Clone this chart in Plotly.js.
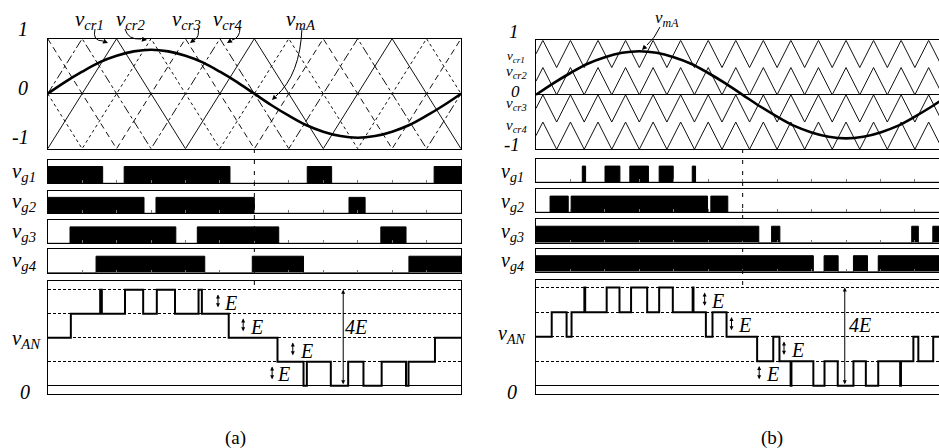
<!DOCTYPE html>
<html><head><meta charset="utf-8">
<script src="https://cdn.plot.ly/plotly-3.0.1.min.js"></script>
<style>html,body{margin:0;padding:0;background:#fff}#chart{width:939px;height:448px}</style>
</head><body><div id="chart"></div>
<script>
// ---------------- DATA (time as fraction of one fundamental period) ----------------
// modulating wave v_mA, sampled every 15 degrees
const mDeg = [0,15,30,45,60,75,90,105,120,135,150,165,180,195,210,225,240,255,270,285,300,315,330,345,360];
const mA_a = [0,0.21,0.40,0.57,0.69,0.77,0.80,0.77,0.69,0.57,0.40,0.21,0,-0.21,-0.40,-0.57,-0.69,-0.77,-0.80,-0.77,-0.69,-0.57,-0.40,-0.21,0];
const mA_b = [0,0.21,0.40,0.57,0.69,0.77,0.80,0.77,0.69,0.57,0.40,0.21,0,-0.21,-0.40,-0.57,-0.69,-0.77,-0.80,-0.77,-0.69,-0.57,-0.40,-0.21,0];

// (a) phase-shifted carriers, vertex times in twelfths of a period
const cr1A_t = [0,2,4,6,8,10,12];    const cr1A_v = [-1,1,-1,1,-1,1,-1];
const cr2A_t = [0,1,3,5,7,9,11,12];  const cr2A_v = [0,-1,1,-1,1,-1,1,0];
const cr3A_t = [0,2,4,6,8,10,12];    const cr3A_v = [1,-1,1,-1,1,-1,1];
const cr4A_t = [0,1,3,5,7,9,11,12];  const cr4A_v = [0,1,-1,1,-1,1,-1,0];

// (b) level-shifted carriers, vertex times in sixtieths, unit shape within each band
const crB_t60 = [0,1,3,5,7,9,11,13,15,17,19,21,23,25,27,29,31,33,35,37,39,41,43,45,47,49,51,53,55,57,59,60];
const crB_unit = [0.5,1,0,1,0,1,0,1,0,1,0,1,0,1,0,1,0,1,0,1,0,1,0,1,0,1,0,1,0,1,0,0.5];
const crB_bandLow = [0.5, 0, -0.5, -1];
const crB_bandHeight = 0.5;

// (a) gate signals: switching instants and states
const vg1A_t = [0,0.133,0.185,0.441,0.628,0.687,0.935,1];  const vg1A_s = [1,0,1,0,1,0,1,1];
const vg2A_t = [0,0.233,0.262,0.500,0.729,0.768,1];        const vg2A_s = [1,0,1,0,1,0,0];
const vg3A_t = [0,0.054,0.310,0.362,0.559,0.806,0.867,1];  const vg3A_s = [0,1,0,1,0,1,0,0];
const vg4A_t = [0,0.117,0.380,0.495,0.619,0.874,1];        const vg4A_s = [0,1,0,1,0,1,1];

// (b) gate signals
const vg1B_t = [0,0.112,0.120,0.167,0.203,0.227,0.272,0.298,0.332,0.378,0.386,1]; const vg1B_s = [0,1,0,1,0,1,0,1,0,1,0,0];
const vg2B_t = [0,0.034,0.078,0.085,0.415,0.423,0.464,1];  const vg2B_s = [0,1,0,1,0,1,0,0];
const vg3B_t = [0,0.539,0.570,0.590,0.909,0.925,0.960,1];  const vg3B_s = [1,0,1,0,1,0,1,1];
const vg4B_t = [0,0.671,0.697,0.731,0.768,0.802,0.828,1];  const vg4B_s = [1,0,1,0,1,0,1,1];

// v_AN in multiples of E
const vanA_t = [0,0.056,0.127,0.131,0.187,0.231,0.264,0.308,0.365,0.373,0.438,0.556,0.619,0.627,0.685,0.727,0.764,0.808,0.867,0.873,0.937,1];
const vanA_l = [2,3,4,3,4,3,4,3,4,3,2,1,0,1,0,1,0,1,0,1,2,2];
const vanB_t = [0,0.038,0.074,0.086,0.117,0.119,0.171,0.202,0.230,0.269,0.298,0.331,0.379,0.381,0.411,0.427,0.461,0.535,0.574,0.589,0.616,0.618,0.671,0.698,0.730,0.768,0.798,0.828,0.881,0.883,0.913,0.925,0.961,1];
const vanB_l = [2,3,2,3,4,3,4,3,4,3,4,3,4,3,2,3,2,1,2,1,0,1,0,1,0,1,0,1,0,1,2,1,2,2];

// ---------------- LAYOUT ----------------
const W = 939, H = 448;
const px = x => x / W, py = y => 1 - y / H;
const FONT = 'Liberation Serif, Times New Roman, serif';
const layout = {width:W, height:H, margin:{l:0,r:0,t:0,b:0}, paper_bgcolor:'#fff', plot_bgcolor:'#fff',
  showlegend:false, shapes:[], annotations:[]};
const traces = [];

const nm = i => (i === 1 ? '' : String(i));
function addAxes(i, xd, yd, xr, yr, mirrorY, xo, yo) {
  layout['xaxis' + nm(i)] = Object.assign({domain:[px(xd[0]), px(xd[1])], range:xr, anchor:'y' + nm(i),
    showline:true, linecolor:'#000', linewidth:1, mirror:true, showgrid:false, zeroline:false,
    showticklabels:false, ticks:'', fixedrange:true}, xo || {});
  layout['yaxis' + nm(i)] = Object.assign({domain:[py(yd[1]), py(yd[0])], range:yr, anchor:'x' + nm(i),
    showline:true, linecolor:'#000', linewidth:1, mirror:mirrorY, showgrid:false, zeroline:false,
    showticklabels:false, ticks:'', fixedrange:true}, yo || {});
}

const panels = [
  {base:1, xd:[47.7,461], xr:[0,1], mirrorY:true,
   rows:[[38.7,148.7],[159.5,183.3],[190.7,213.3],[220,243.3],[249.3,272.7],[281,394.3]], vanR:[-0.36,4.36],
   m:mA_a, gates:[[vg1A_t,vg1A_s],[vg2A_t,vg2A_s],[vg3A_t,vg3A_s],[vg4A_t,vg4A_s]], van:[vanA_t,vanA_l]},
  {base:7, xd:[536,939], xr:[0,0.975], mirrorY:false,
   rows:[[40.3,149.3],[159.3,182.3],[189.3,212.3],[219.3,242.7],[249,271.7],[280,394.3]], vanR:[-0.35,4.31],
   m:mA_b, gates:[[vg1B_t,vg1B_s],[vg2B_t,vg2B_s],[vg3B_t,vg3B_s],[vg4B_t,vg4B_s]], van:[vanB_t,vanB_l]}
];

panels.forEach((P, pi) => {
  const b = P.base;
  // top plot
  addAxes(b, P.xd, P.rows[0], P.xr, [-1,1], P.mirrorY, {}, {zeroline:true, zerolinecolor:'#000', zerolinewidth:1});
  const xa = 'x' + nm(b), ya = 'y' + nm(b);
  if (pi === 0) {
    const cs = [[cr1A_t,cr1A_v,'solid'],[cr2A_t,cr2A_v,'dot'],[cr3A_t,cr3A_v,'6px,4px'],[cr4A_t,cr4A_v,'dashdot']];
    cs.forEach(c => traces.push({x:c[0].map(t => t/12), y:c[1], xaxis:xa, yaxis:ya, mode:'lines',
      line:{color:'#111', width:1, dash:c[2]}, hoverinfo:'skip'}));
  } else {
    crB_bandLow.forEach(lo => traces.push({x:crB_t60.map(t => t/60), y:crB_unit.map(u => lo + crB_bandHeight*u),
      xaxis:xa, yaxis:ya, mode:'lines', line:{color:'#111', width:1}, hoverinfo:'skip'}));
  }
  traces.push({x:mDeg.map(d => d/360), y:P.m, xaxis:xa, yaxis:ya, mode:'lines',
    line:{color:'#000', width:2.6, shape:'spline', smoothing:1}, hoverinfo:'skip'});
  // gate plots
  P.gates.forEach((g, k) => {
    const i = b + 1 + k;
    addAxes(i, P.xd, P.rows[1+k], P.xr, [0,1.42], P.mirrorY,
      {ticks:'inside', ticklen:3, tickcolor:'#777', tickmode:'linear', tick0:0, dtick:1/12}, {});
    traces.push({x:g[0], y:g[1], xaxis:'x'+nm(i), yaxis:'y'+nm(i), mode:'lines',
      line:{shape:'hv', color:'#000', width:1}, fill:'tozeroy', fillcolor:'#000', hoverinfo:'skip'});
  });
  // v_AN plot
  const iv = b + 5;
  addAxes(iv, P.xd, P.rows[5], P.xr, P.vanR, P.mirrorY, {},
    {tickmode:'array', tickvals:[1,2,3,4], showgrid:true, gridcolor:'#000', gridwidth:1, griddash:'3px,2px',
     zeroline:true, zerolinecolor:'#000', zerolinewidth:1});
  traces.push({x:P.van[0], y:P.van[1], xaxis:'x'+nm(iv), yaxis:'y'+nm(iv), mode:'lines',
    line:{shape:'hv', color:'#000', width:2}, hoverinfo:'skip'});
  // half-period dashed marker
  layout.shapes.push({type:'line', xref:'x'+nm(b+1), yref:'paper', x0:0.5, x1:0.5, y0:py(149), y1:py(289),
    line:{color:'#000', width:1, dash:'4px,7px'}});
});

// ---------------- TEXT ----------------
function L(text, x, y, size, opts) {
  layout.annotations.push(Object.assign({text:text, xref:'paper', yref:'paper', x:px(x), y:py(y),
    xanchor:'center', yanchor:'middle', showarrow:false, borderpad:0, font:{family:FONT, size:size, color:'#000'}}, opts || {}));
}
const it = s => '<i>' + s + '</i>';
const vs = s => '<i>v<sub>' + s + '</sub></i>';
// panel (a)
L(it('1'), 23, 29, 20); L(it('0'), 23, 88, 20); L(it('-1'), 20, 137, 20);
L(vs('cr1'), 89, 20, 21); L(vs('cr2'), 131, 20, 21); L(vs('cr3'), 186, 20, 21); L(vs('cr4'), 228, 20, 21);
L(vs('mA'), 301, 20, 21);
L(vs('g1'), 24, 172, 21); L(vs('g2'), 24, 202, 21); L(vs('g3'), 24, 232, 21); L(vs('g4'), 24, 261, 21);
L(vs('AN'), 26, 339, 21); L(it('0'), 25, 392, 20);
L('(a)', 235, 438, 19);
// panel (b)
L(it('1'), 514, 32, 19); L(vs('cr1'), 516, 56, 13); L(vs('cr2'), 516, 72, 15); L(it('0'), 515, 91, 17);
L(vs('cr3'), 516, 104, 15); L(vs('cr4'), 516, 126, 15); L(it('-1'), 512, 144, 19);
L(vs('mA'), 667, 19, 17);
L(vs('g1'), 512, 172, 20); L(vs('g2'), 512, 202, 20); L(vs('g3'), 512, 232, 20); L(vs('g4'), 512, 261, 20);
L(vs('AN'), 511, 334, 20); L(it('0'), 512, 392, 20);
L('(b)', 772, 438, 19);

// curved label arrows (pixel coordinates): start, control, end-of-curve, head
const curves = [
  [[95,29],[92,41],[103,41],[108,43]],
  [[125,29],[128,40],[141,39],[147,40]],
  [[198,28],[200,37],[194,40],[190,43]],
  [[240,28],[240,38],[232,40],[227,43]],
  [[302,28],[300,75],[276,96],[272,100]],
  [[660,27],[655,38],[647,45],[642,50]]
];
curves.forEach(c => {
  layout.shapes.push({type:'path', xref:'paper', yref:'paper',
    path:`M ${px(c[0][0])},${py(c[0][1])} Q ${px(c[1][0])},${py(c[1][1])} ${px(c[2][0])},${py(c[2][1])}`,
    line:{color:'#000', width:1}});
  layout.annotations.push({text:'', xref:'paper', yref:'paper', x:px(c[3][0]), y:py(c[3][1]),
    ax:c[2][0]-c[3][0], ay:c[2][1]-c[3][1], showarrow:true, arrowhead:2, arrowsize:1, arrowwidth:1, arrowcolor:'#000', standoff:0});
});

// E arrows in v_AN axes
function dbl(axIdx, x, y0, y1) {
  layout.annotations.push({text:'', xref:'x'+nm(axIdx), yref:'y'+nm(axIdx), axref:'x'+nm(axIdx), ayref:'y'+nm(axIdx),
    x:x, y:y1, ax:x, ay:y0, showarrow:true, arrowside:'end+start', arrowhead:2, arrowsize:0.8, arrowwidth:1, arrowcolor:'#000', standoff:0, startstandoff:0});
}
function EL(axIdx, x, y, t) {
  layout.annotations.push({text:it(t), xref:'x'+nm(axIdx), yref:'y'+nm(axIdx), x:x, y:y, showarrow:false,
    xanchor:'center', yanchor:'middle', font:{family:FONT, size:20, color:'#000'}});
}
// (a)
dbl(6, 0.412, 3.2, 3.8); EL(6, 0.443, 3.44, 'E');
dbl(6, 0.473, 2.2, 2.8); EL(6, 0.504, 2.46, 'E');
dbl(6, 0.593, 1.2, 1.8); EL(6, 0.626, 1.46, 'E');
dbl(6, 0.543, 0.2, 0.8); EL(6, 0.571, 0.47, 'E');
dbl(6, 0.715, 0, 4);     EL(6, 0.747, 2.46, '4E');
// (b)
dbl(12, 0.408, 3.2, 3.8); EL(12, 0.438, 3.44, 'E');
dbl(12, 0.473, 2.2, 2.8); EL(12, 0.505, 2.46, 'E');
dbl(12, 0.600, 1.2, 1.8); EL(12, 0.632, 1.46, 'E');
dbl(12, 0.540, 0.2, 0.8); EL(12, 0.571, 0.47, 'E');
dbl(12, 0.747, 0, 4);     EL(12, 0.785, 2.46, '4E');

Plotly.newPlot('chart', traces, layout, {staticPlot:true, displayModeBar:false});
</script></body></html>
